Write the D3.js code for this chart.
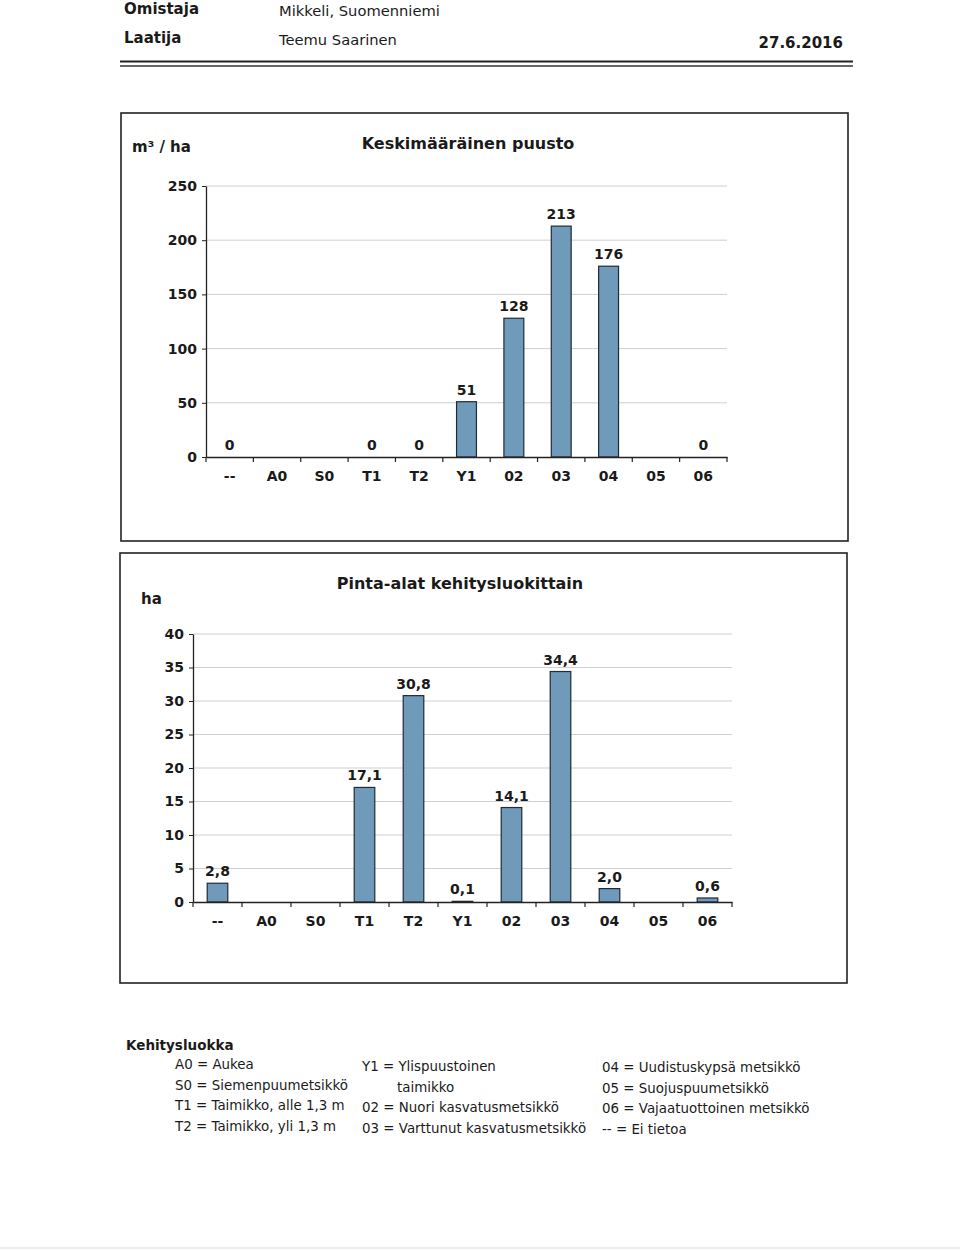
<!DOCTYPE html>
<html><head><meta charset="utf-8">
<script src="https://cdn.jsdelivr.net/npm/d3@7"></script>
<style>
body{margin:0;background:#fff;}
svg text{fill:#1a1a1a;}
</style></head>
<body>
<svg id="c" width="960" height="1251"></svg>
<script>
const categories = ["--","A0","S0","T1","T2","Y1","02","03","04","05","06"];
const volumeValues = [0,null,null,0,0,51,128,213,176,null,0];
const areaValues = [2.8,null,null,17.1,30.8,0.1,14.1,34.4,2.0,null,0.6];
const volumeTicks = [0,50,100,150,200,250];
const areaTicks = [0,5,10,15,20,25,30,35,40];
const volumeLabels = ["0",null,null,"0","0","51","128","213","176",null,"0"];
const areaLabels = ["2,8",null,null,"17,1","30,8","0,1","14,1","34,4","2,0",null,"0,6"];
const headerRows = [["Omistaja","Mikkeli, Suomenniemi"],["Laatija","Teemu Saarinen"]];
const headerDate = "27.6.2016";
const legendTitle = "Kehitysluokka";
const legendCol1 = ["A0 = Aukea","S0 = Siemenpuumetsikkö","T1 = Taimikko, alle 1,3 m","T2 = Taimikko, yli 1,3 m"];
const legendCol2 = ["Y1 = Ylispuustoinen","taimikko","02 = Nuori kasvatusmetsikkö","03 = Varttunut kasvatusmetsikkö"];
const legendCol3 = ["04 = Uudistuskypsä metsikkö","05 = Suojuspuumetsikkö","06 = Vajaatuottoinen metsikkö","-- = Ei tietoa"];

const svg = d3.select("#c");
const BF = "DejaVu Sans, Verdana, sans-serif";

// Header
svg.append("text").attr("x",124).attr("y",14).attr("font-family",BF).attr("font-weight","bold").attr("font-size",15).text(headerRows[0][0]);
svg.append("text").attr("x",279).attr("y",16).attr("font-family",BF).attr("font-size",14.7).text(headerRows[0][1]);
svg.append("text").attr("x",124).attr("y",43).attr("font-family",BF).attr("font-weight","bold").attr("font-size",15).text(headerRows[1][0]);
svg.append("text").attr("x",279).attr("y",45).attr("font-family",BF).attr("font-size",14.7).text(headerRows[1][1]);
svg.append("text").attr("x",843).attr("y",48).attr("text-anchor","end").attr("font-family",BF).attr("font-weight","bold").attr("font-size",15).text(headerDate);
svg.append("line").attr("x1",120).attr("x2",853).attr("y1",61.5).attr("y2",61.5).attr("stroke","#222").attr("stroke-width",1.8);
svg.append("line").attr("x1",120).attr("x2",853).attr("y1",66).attr("y2",66).attr("stroke","#333").attr("stroke-width",1.5);

function chart(opt){
  const g = svg.append("g");
  g.append("rect").attr("x",opt.box[0]).attr("y",opt.box[1]).attr("width",opt.box[2]).attr("height",opt.box[3])
    .attr("fill","none").attr("stroke","#222").attr("stroke-width",1.6);
  g.append("text").attr("x",opt.unitPos[0]).attr("y",opt.unitPos[1]).attr("font-family",BF).attr("font-weight","bold").attr("font-size",15).text(opt.unit);
  g.append("text").attr("x",opt.titlePos[0]).attr("y",opt.titlePos[1]).attr("text-anchor","middle").attr("font-family",BF).attr("font-weight","bold").attr("font-size",16).text(opt.title);

  const x = d3.scaleBand().domain(categories).range([opt.x0,opt.x1]).paddingInner(0.58).paddingOuter(0.29);
  const y = d3.scaleLinear().domain([0,opt.max]).range([opt.y0,opt.yTop]);

  g.append("g").selectAll("line").data(opt.ticks.filter(t=>t>0)).join("line")
    .attr("x1",opt.x0).attr("x2",opt.x1).attr("y1",d=>y(d)).attr("y2",d=>y(d))
    .attr("stroke","#cfcfcf").attr("stroke-width",1);

  const ya = g.append("g").attr("transform",`translate(${opt.x0},0)`)
    .call(d3.axisLeft(y).tickValues(opt.ticks).tickSize(4).tickSizeOuter(0).tickPadding(5).tickFormat(d3.format("d")));
  ya.select(".domain").attr("stroke","#222").attr("stroke-width",1.3);
  ya.selectAll(".tick line").attr("stroke","#222");
  ya.selectAll(".tick text").attr("font-family",BF).attr("font-weight","bold").attr("font-size",14).attr("fill","#1a1a1a");

  const data = categories.map((c,i)=>({c, v:opt.values[i], l:opt.labels[i]}));
  g.append("g").selectAll("rect").data(data.filter(d=>d.v!==null && d.v>0)).join("rect")
    .attr("x",d=>x(d.c)).attr("width",x.bandwidth())
    .attr("y",d=>y(d.v)).attr("height",d=>y(0)-y(d.v))
    .attr("fill","#6f9aba").attr("stroke","#1e2b38").attr("stroke-width",1.2);

  const xa = g.append("g").attr("transform",`translate(0,${opt.y0})`)
    .call(d3.axisBottom(x).tickSize(0).tickPadding(opt.labelPad));
  xa.select(".domain").attr("stroke","#222").attr("stroke-width",1.3);
  xa.selectAll(".tick text").attr("font-family",BF).attr("font-weight","bold").attr("font-size",14).attr("fill","#1a1a1a");
  const bounds = d3.range(categories.length+1).map(i=>opt.x0 + i*x.step());
  g.append("g").selectAll("line").data(bounds).join("line")
    .attr("x1",d=>d).attr("x2",d=>d).attr("y1",opt.y0).attr("y2",opt.y0+5)
    .attr("stroke","#222").attr("stroke-width",1.2);

  g.append("g").selectAll("text").data(data.filter(d=>d.l!==null)).join("text")
    .attr("x",d=>x(d.c)+x.bandwidth()/2).attr("y",d=>y(d.v)-opt.valPad)
    .attr("text-anchor","middle").attr("font-family",BF).attr("font-weight","bold").attr("font-size",14)
    .attr("fill","#1f1f1f").text(d=>d.l);
}

chart({box:[121,113,727,428], unit:"m³ / ha", unitPos:[132,152], title:"Keskimääräinen puusto", titlePos:[468,149],
  x0:206, x1:727, y0:457, yTop:186, max:250, ticks:volumeTicks, values:volumeValues, labels:volumeLabels, labelPad:14, valPad:7});
chart({box:[120,553,727,430], unit:"ha", unitPos:[141,604], title:"Pinta-alat kehitysluokittain", titlePos:[460,589],
  x0:193, x1:732, y0:902, yTop:634, max:40, ticks:areaTicks, values:areaValues, labels:areaLabels, labelPad:14, valPad:7});

// legend
svg.append("text").attr("x",126).attr("y",1050).attr("font-family",BF).attr("font-weight","bold").attr("font-size",13.5).text(legendTitle);
const cols = [{x:175,y:1069,items:legendCol1},{x:362,y:1071,items:legendCol2},{x:602,y:1072,items:legendCol3}];
cols.forEach(col=>{
  svg.append("g").selectAll("text").data(col.items).join("text")
    .attr("x",d=>d.includes("=") ? col.x : col.x+35).attr("y",(d,i)=>col.y+i*20.5)
    .attr("font-family",BF).attr("font-size",13.4)
    .text(d=>d);
});
svg.append("line").attr("x1",0).attr("x2",960).attr("y1",1248).attr("y2",1248).attr("stroke","#ddd").attr("stroke-width",1);
</script>
</body></html>
